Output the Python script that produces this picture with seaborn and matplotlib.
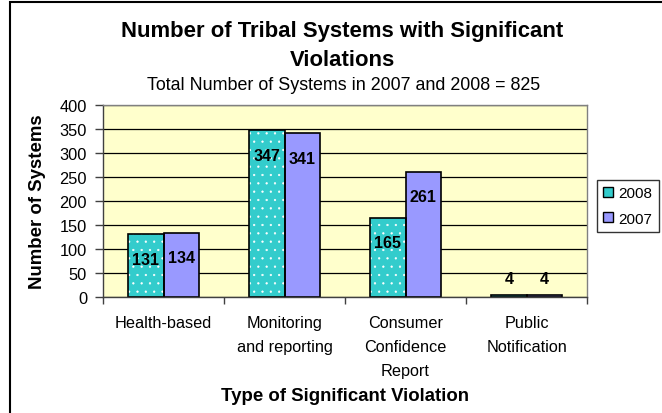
import pandas as pd
import matplotlib
matplotlib.use("Agg")
import matplotlib.pyplot as plt
from matplotlib.patches import Patch, Rectangle
import seaborn as sns

# data
categories = ["Health-based", "Monitoring\nand reporting",
              "Consumer\nConfidence\nReport", "Public\nNotification"]
years = ["2008", "2007"]
values_2008 = [131, 347, 165, 4]
values_2007 = [134, 341, 261, 4]
y_ticks = [0, 50, 100, 150, 200, 250, 300, 350, 400]

colors = {"2008": "#33CCCC", "2007": "#9999FF"}

df = pd.DataFrame({
    "category": categories * 2,
    "year": ["2008"] * 4 + ["2007"] * 4,
    "count": values_2008 + values_2007,
})

sns.set_theme(style="white")
plt.rcParams["font.family"] = ["Liberation Sans", "DejaVu Sans"]
plt.rcParams["text.color"] = "black"
plt.rcParams["axes.labelcolor"] = "black"
plt.rcParams["xtick.color"] = "black"
plt.rcParams["ytick.color"] = "black"
plt.rcParams["hatch.linewidth"] = 0.4

W, H = 662, 414
fig = plt.figure(figsize=(W / 100, H / 100), dpi=100)
fig.patch.set_facecolor("white")
ax = fig.add_axes([103 / W, 1 - 298 / H, (587 - 103) / W, (298 - 106) / H])
ax.set_facecolor("#FFFFCC")

sns.barplot(data=df, x="category", y="count", hue="year", hue_order=years,
            order=categories, palette=colors, width=0.58, gap=0,
            edgecolor="black", linewidth=1.2, saturation=1, legend=False, ax=ax)

# dotted pattern for 2008 bars
for bar in ax.containers[0]:
    bar.set_hatch("..")
    bar.set_edgecolor("white")
    bar.set_linewidth(0)
    ax.add_patch(Rectangle((bar.get_x(), bar.get_y()), bar.get_width(), bar.get_height(),
                           fill=False, edgecolor="black", linewidth=1.2, zorder=bar.get_zorder() + 0.1))

# data labels
for cont in ax.containers:
    for bar in cont:
        v = bar.get_height()
        off = -25 if v > 20 else 17
        ax.annotate(f"{v:.0f}", (bar.get_x() + bar.get_width() / 2, v),
                    xytext=(0, off), textcoords="offset pixels",
                    ha="center", va="center", fontsize=11.5, fontweight="bold",
                    color="black", zorder=5)

ax.set_ylim(0, 400)
ax.set_xlim(-0.5, 3.5)
ax.set_yticks(y_ticks)
ax.yaxis.grid(True, color="black", linewidth=0.9)
ax.set_axisbelow(True)
for s in ax.spines.values():
    s.set_color("#808080")
    s.set_linewidth(1.0)
ax.spines["left"].set_color("#404040")
ax.spines["bottom"].set_color("#404040")

ax.tick_params(axis="y", direction="out", length=6, width=1, color="#404040",
               pad=5.5, labelsize=11.8, labelcolor="black", left=True)
ax.set_xticks(range(4))
ax.set_xticklabels(categories, fontsize=11.7, linespacing=1.75, color="black")
ax.set_xticks([-0.5, 0.5, 1.5, 2.5, 3.5], minor=True)
ax.tick_params(axis="x", which="major", length=0, pad=13)
ax.tick_params(axis="x", which="minor", direction="out", length=5, width=1,
               color="#404040", bottom=True)

ax.set_xlabel("")
ax.set_ylabel("")
fig.text(38 / W, 1 - 202 / H, "Number of Systems", rotation=90, ha="center", va="center",
         fontsize=13.4, fontweight="bold")
fig.text(345 / W, 1 - 397 / H, "Type of Significant Violation", ha="center", va="center",
         fontsize=13.4, fontweight="bold")

fig.text(342 / W, 1 - 32 / H, "Number of Tribal Systems with Significant", ha="center",
         va="center", fontsize=15.9, fontweight="bold")
fig.text(342 / W, 1 - 60 / H, "Violations", ha="center", va="center",
         fontsize=15.9, fontweight="bold")
fig.text(344 / W, 1 - 85 / H, "Total Number of Systems in 2007 and 2008 = 825",
         ha="center", va="center", fontsize=12.9)

# legend kept just inside the right edge so its labels are not clipped
handles = [Patch(facecolor=colors[y], edgecolor="black", linewidth=1) for y in years]
leg = fig.legend(handles, years, loc="upper left", bbox_to_anchor=(597 / W, 1 - 181 / H),
                 frameon=True, fancybox=False, edgecolor="black", fontsize=11,
                 handlelength=0.65, handleheight=0.65, handletextpad=0.35,
                 borderpad=0.4, labelspacing=0.75, borderaxespad=0)
leg.get_frame().set_linewidth(1)

# chart border
fig.add_artist(Rectangle((10 / W, -0.1), 1.2, 1.1 - 3 / H, transform=fig.transFigure,
                         fill=False, edgecolor="black", linewidth=1.5))

fig.savefig("out.png", dpi=100, facecolor="white")
